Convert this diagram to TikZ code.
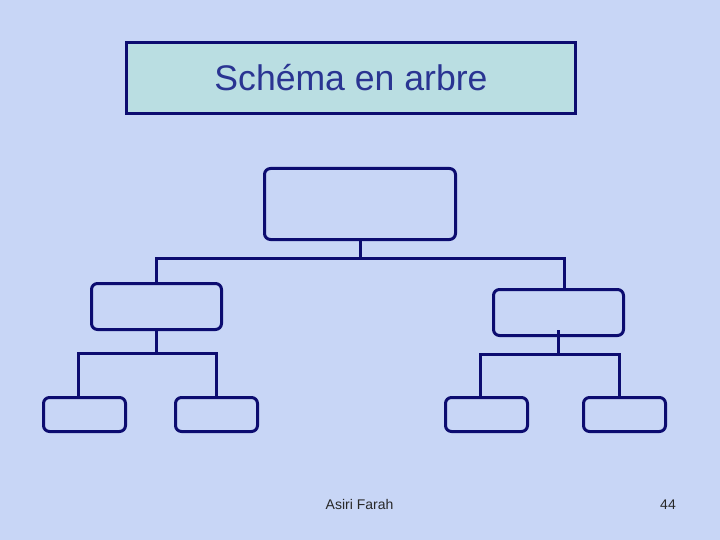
\documentclass[tikz,border=0pt]{standalone}
\usepackage{fontspec}
\setmainfont{Liberation Sans}
\definecolor{slidebg}{RGB}{200,214,246}
\definecolor{navyline}{RGB}{12,12,112}
\definecolor{titlefill}{RGB}{186,222,226}
\definecolor{titletext}{RGB}{42,52,146}
\definecolor{foottext}{RGB}{40,40,40}
\tikzset{
  treebox/.style={draw=navyline,line width=3pt,rounded corners=6pt,inner sep=0pt},
  treeline/.style={draw=navyline,line width=3pt},
  foot/.style={text=foottext,font=\fontsize{14}{16}\selectfont,anchor=base,inner sep=0pt},
}

\begin{document}
\begin{tikzpicture}[x=1pt,y=-1pt]
  \useasboundingbox (0,0) rectangle (720,540);
  \fill[slidebg] (0,0) rectangle (720,540);

  % title box
  \node[draw=navyline,line width=3pt,fill=titlefill,minimum width=449pt,minimum height=71pt,
        text=titletext,font=\fontsize{35.6}{40}\selectfont] (title) at (351,78) {Schéma en arbre};

  % boxes of the tree
  \node[treebox,minimum width=191pt,minimum height=71pt] (root) at (360,204) {};
  \node[treebox,minimum width=130pt,minimum height=46pt] (mida) at (156.5,306.5) {};
  \node[treebox,minimum width=130pt,minimum height=46pt] (midb) at (558.5,312.5) {};
  \foreach \x/\n in {84.5/leafaa,216.5/leafab,486.5/leafba,624.5/leafbb} {
    \node[treebox,minimum width=82pt,minimum height=34pt] (\n) at (\x,414.5) {};  }

  % junction points
  \coordinate (barl) at (156,258);
  \coordinate (barr) at (564,258);
  \coordinate (subal) at (78,353);
  \coordinate (subar) at (216,353);
  \coordinate (subbl) at (480,354);
  \coordinate (subbr) at (619,354);
  \coordinate (subbtop) at (558,330);

  % root to middle row
  \draw[treeline] (root.south) -- (root.south |- barl);
  \draw[treeline] (barl |- mida.north) -- (barl) -- (barr) -- (barr |- midb.north);

  % middle row to leaves
  \draw[treeline] (mida.south) -- (mida.south |- subal);
  \draw[treeline] (subal |- leafaa.north) -- (subal) -- (subar) -- (subar |- leafab.north);
  \draw[treeline] (subbtop) -- (subbtop |- subbl);
  \draw[treeline] (subbl |- leafba.north) -- (subbl) -- (subbr) -- (subbr |- leafbb.north);

  % footer
  \node[foot] (author) at (359.5,509) {Asiri Farah};
  \node[foot] (pagenum) at (668,509) {44};
\end{tikzpicture}
\end{document}
